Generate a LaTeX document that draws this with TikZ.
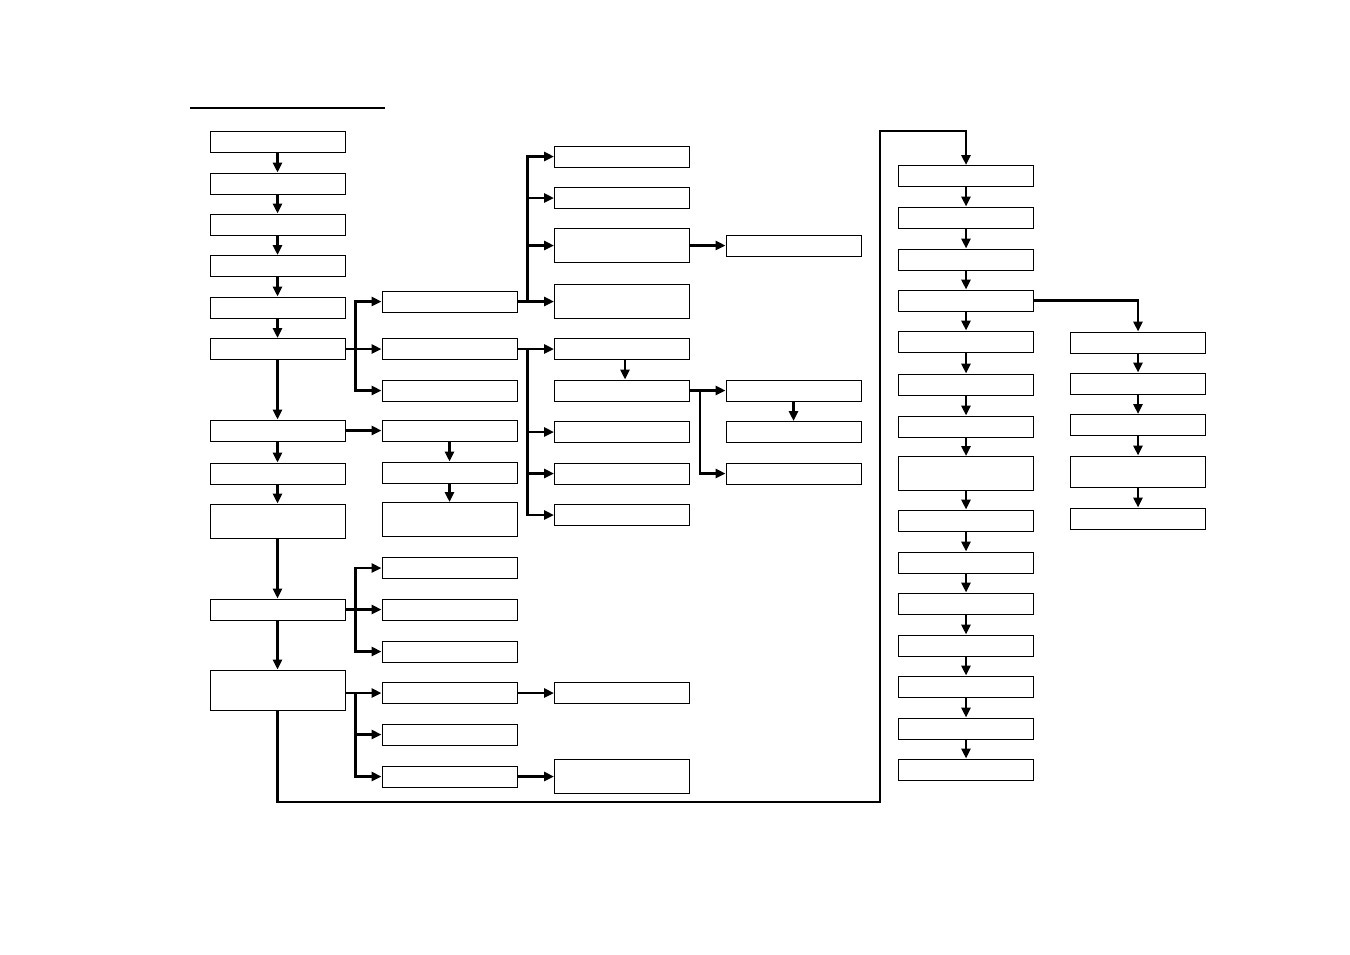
\documentclass[tikz,border=0pt]{standalone}
\usepackage{tikz}
\usetikzlibrary{arrows.meta, positioning, calc}
\tikzset{
	stepbox/.style={draw, line width=1pt, minimum width=135pt, minimum height=21pt, inner sep=0pt},
	tallbox/.style={stepbox, minimum height=34pt},
	flowarr/.style={-{Triangle[length=10pt, width=9pt]}, line width=2.6pt},
}
\begin{document}
\begin{tikzpicture}[x=1pt, y=-1pt]
	\useasboundingbox (0,0) rectangle (1350,954);
	% Title rule
	\draw[line width=2pt] (190,108) -- (385,108);
	% Main column
	\node[stepbox] (b1) at (277.5,141.5) {};
	\node[stepbox] (b2) at (277.5,183.5) {};
	\node[stepbox] (b3) at (277.5,224.5) {};
	\node[stepbox] (b4) at (277.5,266) {};
	\node[stepbox] (b5) at (277.5,307.5) {};
	\node[stepbox] (b6) at (277.5,349) {};
	\node[stepbox] (b7) at (277.5,430.5) {};
	\node[stepbox] (b8) at (277.5,473.5) {};
	\node[tallbox] (b9) at (277.5,521) {};
	\node[stepbox] (b10) at (277.5,609.5) {};
	\node[tallbox, minimum height=40pt] (b11) at (277.5,690) {};
	% Second column
	\node[stepbox] (m1) at (449.5,301.5) {};
	\node[stepbox] (m2) at (449.5,349) {};
	\node[stepbox] (m3) at (449.5,390.5) {};
	\node[stepbox] (m4) at (449.5,430.5) {};
	\node[stepbox] (m5) at (449.5,472.5) {};
	\node[tallbox] (m6) at (449.5,519.5) {};
	\node[stepbox] (m7) at (449.5,568) {};
	\node[stepbox] (m8) at (449.5,609.5) {};
	\node[stepbox] (m9) at (449.5,651.5) {};
	\node[stepbox] (m10) at (449.5,693) {};
	\node[stepbox] (m11) at (449.5,734.5) {};
	\node[stepbox] (m12) at (449.5,776.5) {};
	% Third column
	\node[stepbox] (r1) at (622,156.5) {};
	\node[stepbox] (r2) at (622,198) {};
	\node[tallbox] (r3) at (622,245.5) {};
	\node[tallbox] (r4) at (622,301.5) {};
	\node[stepbox] (r5) at (622,349) {};
	\node[stepbox] (r6) at (622,390.5) {};
	\node[stepbox] (r7) at (622,432) {};
	\node[stepbox] (r8) at (622,473.5) {};
	\node[stepbox] (r9) at (622,515) {};
	\node[stepbox] (r10) at (622,693) {};
	\node[tallbox] (r11) at (622,776.5) {};
	% Fourth column
	\node[stepbox] (s1) at (793.5,245.5) {};
	\node[stepbox] (s2) at (793.5,390.5) {};
	\node[stepbox] (s3) at (793.5,432) {};
	\node[stepbox] (s4) at (793.5,473.5) {};
	% Right column
	\node[stepbox] (c1) at (966,176) {};
	\node[stepbox] (c2) at (966,217.5) {};
	\node[stepbox] (c3) at (966,259.5) {};
	\node[stepbox] (c4) at (966,300.5) {};
	\node[stepbox] (c5) at (966,341.5) {};
	\node[stepbox] (c6) at (966,384.5) {};
	\node[stepbox] (c7) at (966,426.5) {};
	\node[tallbox] (c8) at (966,473.5) {};
	\node[stepbox] (c9) at (966,520.5) {};
	\node[stepbox] (c10) at (966,562.5) {};
	\node[stepbox] (c11) at (966,603.5) {};
	\node[stepbox] (c12) at (966,645.5) {};
	\node[stepbox] (c13) at (966,686.5) {};
	\node[stepbox] (c14) at (966,728.5) {};
	\node[stepbox] (c15) at (966,769.5) {};
	% Side branch
	\node[stepbox] (d1) at (1138,342.5) {};
	\node[stepbox] (d2) at (1138,383.5) {};
	\node[stepbox] (d3) at (1138,425) {};
	\node[tallbox, minimum height=31pt] (d4) at (1138,471.5) {};
	\node[stepbox] (d5) at (1138,518.5) {};
	% Main column arrows
	\foreach \a/\b in {b1/b2, b2/b3, b3/b4, b4/b5, b5/b6, b6/b7, b7/b8, b8/b9, b9/b10, b10/b11}
		\draw[flowarr] (\a.south) -- (\b.north);
	% Branches to second column
	\foreach \t in {m1, m2, m3}
		\draw[flowarr] (b6.east) -- ++(10,0) |- (\t.west);
	\draw[flowarr] (b7) -- (m4);
	\draw[flowarr] (m4) -- (m5);
	\draw[flowarr] (m5) -- (m6);
	\foreach \t in {m7, m8, m9}
		\draw[flowarr] (b10.east) -- ++(10,0) |- (\t.west);
	\foreach \t in {m10, m11, m12}
		\draw[flowarr] ($(b11.east)+(0,3)$) -- ++(10,0) |- (\t.west);
	% Branches to third column
	\foreach \t in {r1, r2, r3, r4}
		\draw[flowarr] (m1.east) -- ++(10,0) |- (\t.west);
	\foreach \t in {r5, r7, r8, r9}
		\draw[flowarr] (m2.east) -- ++(10,0) |- (\t.west);
	\draw[flowarr] ($(r5.south)+(3,0)$) -- ($(r6.north)+(3,0)$);
	\draw[flowarr] (m10) -- (r10);
	\draw[flowarr] (m12) -- (r11);
	% Fourth column
	\draw[flowarr] (r3) -- (s1);
	\foreach \t in {s2, s4}
		\draw[flowarr] (r6.east) -- ++(10,0) |- (\t.west);
	\draw[flowarr] (s2) -- (s3);
	% Loop back to right column
	\coordinate (lpA) at (277.5,802);
	\coordinate (lpB) at (880,802);
	\coordinate (lpC) at (880,131);
	\draw[flowarr] (b11.south) -- (lpA) -- (lpB) -- (lpC) -| (c1.north);
	\foreach \a/\b in {c1/c2, c2/c3, c3/c4, c4/c5, c5/c6, c6/c7, c7/c8, c8/c9, c9/c10, c10/c11, c11/c12, c12/c13, c13/c14, c14/c15}
		\draw[flowarr] (\a.south) -- (\b.north);
	% Side branch
	\draw[flowarr] (c4.east) -| (d1.north);
	\foreach \a/\b in {d1/d2, d2/d3, d3/d4, d4/d5}
		\draw[flowarr] (\a.south) -- (\b.north);
\end{tikzpicture}
\end{document}
